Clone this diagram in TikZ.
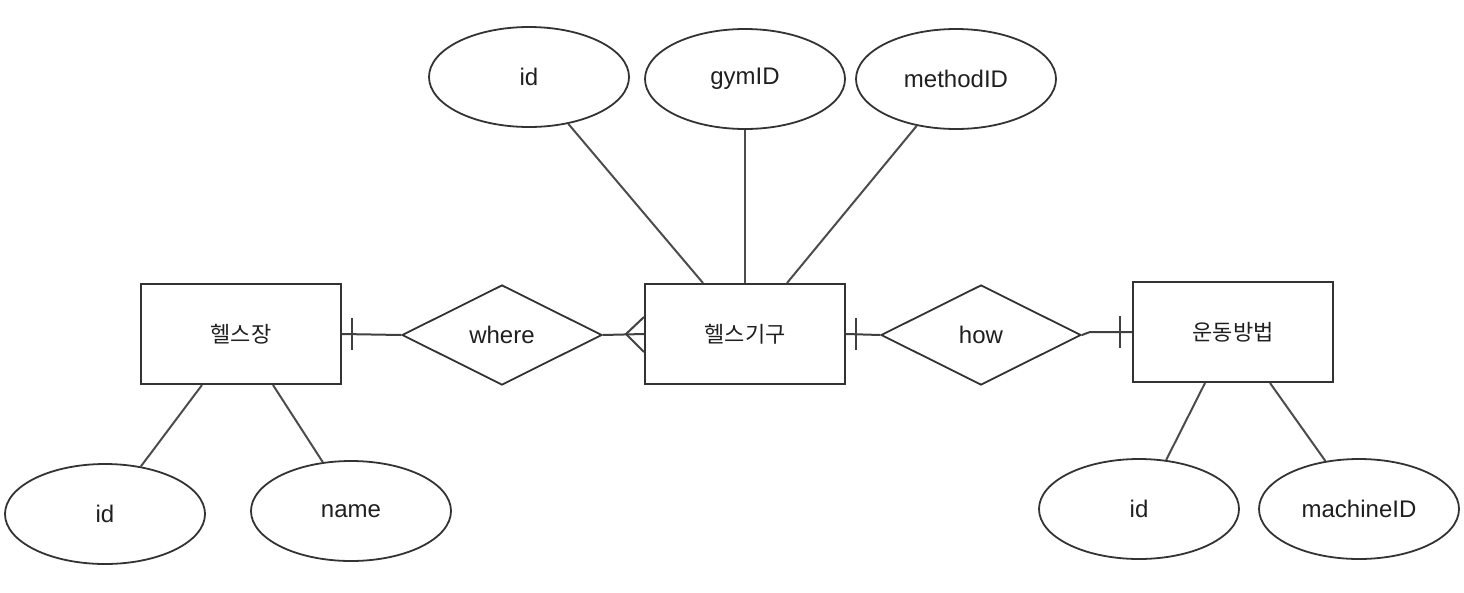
\documentclass[tikz,border=0pt]{standalone}
\usepackage{fontspec}
\setmainfont{Liberation Sans}
\newfontfamily\kr{Noto Sans CJK KR}
\usetikzlibrary{shapes.geometric}
\begin{document}
\begin{tikzpicture}[x=1pt,y=-1pt,
  every node/.style={font=\fontsize{24}{28}\selectfont, text=black!88, inner sep=0pt},
  krtext/.style={font=\kr\fontsize{22}{26}\selectfont},
  entity/.style={draw=black!80, line width=2pt, rectangle, minimum width=200pt, minimum height=100pt, krtext},
  attr/.style={draw=black!80, line width=1.8pt, ellipse, minimum width=200pt, minimum height=100pt},
  rel/.style={draw=black!80, line width=1.8pt, diamond, minimum width=200pt, minimum height=100pt},
  link/.style={draw=black!70, line width=2pt},
  conn/.style={draw=black!75, line width=2pt}
]
\useasboundingbox (0,0) rectangle (1464,592);
% entities
\node[entity] (hs) at (241,334) {헬스장};
\node[entity] (hg) at (745,334) {헬스기구};
\node[entity] (ud) at (1233,332) {운동방법};
% relationships
\node[rel] (where) at (502,335) {where};
\node[rel] (how) at (981,335) {how};
% attributes
\node[attr] (a1) at (529,77) {id};
\node[attr] (a2) at (745,79) {gymID};
\node[attr] (a3) at (956,79) {methodID};
\node[attr] (b1) at (105,514) {id};
\node[attr] (b2) at (351,511) {name};
\node[attr] (c1) at (1139,509) {id};
\node[attr] (c2) at (1359,509) {machineID};
% attribute links
\draw[link] (a1.-50) -- ([xshift=-42pt]hg.north);
\draw[link] (a2.south) -- (hg.north);
\draw[link] (a3.-130) -- ([xshift=42pt]hg.north);
\draw[link] (b1.53) -- ([xshift=-39pt]hs.south);
\draw[link] (b2.120) -- ([xshift=32pt]hs.south);
\draw[link] (c1.61) -- ([xshift=-28pt]ud.south);
\draw[link] (c2.125) -- ([xshift=37pt]ud.south);
% relationship connectors
\draw[conn] (hs.east) -- (where.west);
\draw[conn] ([xshift=10pt,yshift=16pt]hs.east) -- ([xshift=10pt,yshift=-16pt]hs.east);
\draw[conn] (where.east) -- (hg.west);
\draw[conn] ([yshift=17pt]hg.west) -- ([xshift=-18pt]hg.west) -- ([yshift=-18pt]hg.west);
\draw[conn] (hg.east) -- (how.west);
\draw[conn] ([xshift=10pt,yshift=16pt]hg.east) -- ([xshift=10pt,yshift=-16pt]hg.east);
\draw[conn] (how.east) -- ([xshift=-42pt]ud.west) -- (ud.west);
\draw[conn] ([xshift=-12pt,yshift=16pt]ud.west) -- ([xshift=-12pt,yshift=-16pt]ud.west);
\end{tikzpicture}
\end{document}
